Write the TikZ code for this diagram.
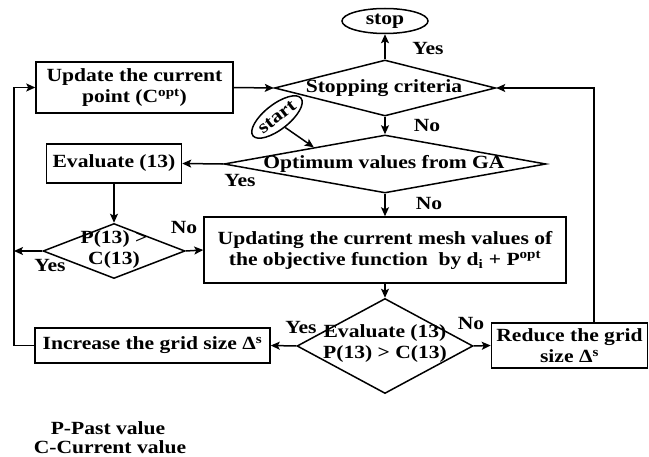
\documentclass[tikz,border=0pt]{standalone}
\usepackage{fontspec}
\setmainfont{Liberation Serif}[FakeStretch=1.16]
\usetikzlibrary{shapes.geometric,arrows.meta,calc}
\begin{document}
\begin{tikzpicture}[x=1pt,y=-1pt,
  base/.style={font=\fontsize{18.6}{21}\selectfont\bfseries, inner sep=0pt, align=center},
  lbl/.style={base},
  box/.style={base, draw, line width=1.5pt, rectangle},
  term/.style={base, draw, line width=1.5pt, ellipse},
  dia/.style={draw, line width=1.5pt, diamond, inner sep=0pt},
  arr/.style={-{Stealth[length=9pt,width=8pt,inset=2pt]}, line width=1.5pt}]
\useasboundingbox (0,0) rectangle (649,457);
% nodes
\node[term, minimum width=86pt, minimum height=25pt] (stop) at (385,21) {stop};
\node[lbl] (ys) at (428,49) {Yes};
\node[dia, minimum width=221pt, minimum height=56pt] (stopc) at (385,88) {};
\node[base] (stopct) at (384,88) {Stopping criteria};
\node[lbl] (n1) at (427,126) {No};
\node[dia, minimum width=322pt, minimum height=58pt] (opt) at (385,164) {};
\node[base] (optt) at (384,164) {Optimum values from GA};
\node[term, rotate=38, minimum width=60pt, minimum height=25pt] (start) at (277,117) {start};
\node[box, minimum width=197pt, minimum height=51pt] (upd) at (134.5,87.5) {Update the current\\point (C\textsuperscript{opt})};
\node[box, minimum width=135pt, minimum height=39pt] (ev) at (114,163.5) {Evaluate (13)};
\node[lbl] (y2) at (240,181) {Yes};
\node[dia, minimum width=142pt, minimum height=55pt] (pd) at (114,251) {};
\node[base] (pdt) at (114,250) {P(13) >\\C(13)};
\node[lbl] (y3) at (50,266) {Yes};
\node[lbl] (n2) at (184,228) {No};
\node[box, minimum width=362pt, minimum height=66pt] (updm) at (385,250) {Updating the current mesh values of\\the objective function~~by d\textsubscript{i} + P\textsuperscript{opt}};
\node[lbl] (n3) at (429,204) {No};
\node[dia, minimum width=176pt, minimum height=95pt] (ed) at (385,346) {};
\node[base] (edt) at (385,344) {Evaluate (13)\\P(13) > C(13)};
\node[box, minimum width=235pt, minimum height=35pt] (inc) at (152.5,345.5) {Increase the grid size Δ\textsuperscript{s}};
\node[lbl] (y4) at (301,328) {Yes};
\node[box, minimum width=156pt, minimum height=45pt] (red) at (569.5,345.5) {Reduce the grid\\size Δ\textsuperscript{s}};
\node[lbl] (n4) at (471,324) {No};
\node[base] (leg1) at (108,428) {P-Past value};
\node[base] (leg2) at (110,447) {C-Current value};
\coordinate (lx) at (14,0);
\coordinate (rx) at (594,0);
% connectors
\draw[arr] (stopc.north) -- (stop.south);
\draw[arr] (stopc.south) -- (opt.north);
\draw[arr] (upd.east) -- (stopc.west);
\draw[arr] (start.south) -- ($(opt.west)!0.56!(opt.north)$);
\draw[arr] (opt.west) -- (ev.east);
\draw[arr] (ev.south) -- (pd.north);
\draw[arr] (pd.east) -- (updm.west);
\draw[arr] (pd.west) -- (lx |- pd.west);
\draw[arr] (opt.south) -- (updm.north);
\draw[arr] (updm.south) -- (ed.north);
\draw[arr] (ed.west) -- (inc.east);
\draw[arr] (ed.east) -- (red.west);
\draw[arr] (rx |- red.north) |- (stopc.east);
\draw[arr] (inc.west) -| (lx |- upd.west) -- (upd.west);
\end{tikzpicture}
\end{document}
